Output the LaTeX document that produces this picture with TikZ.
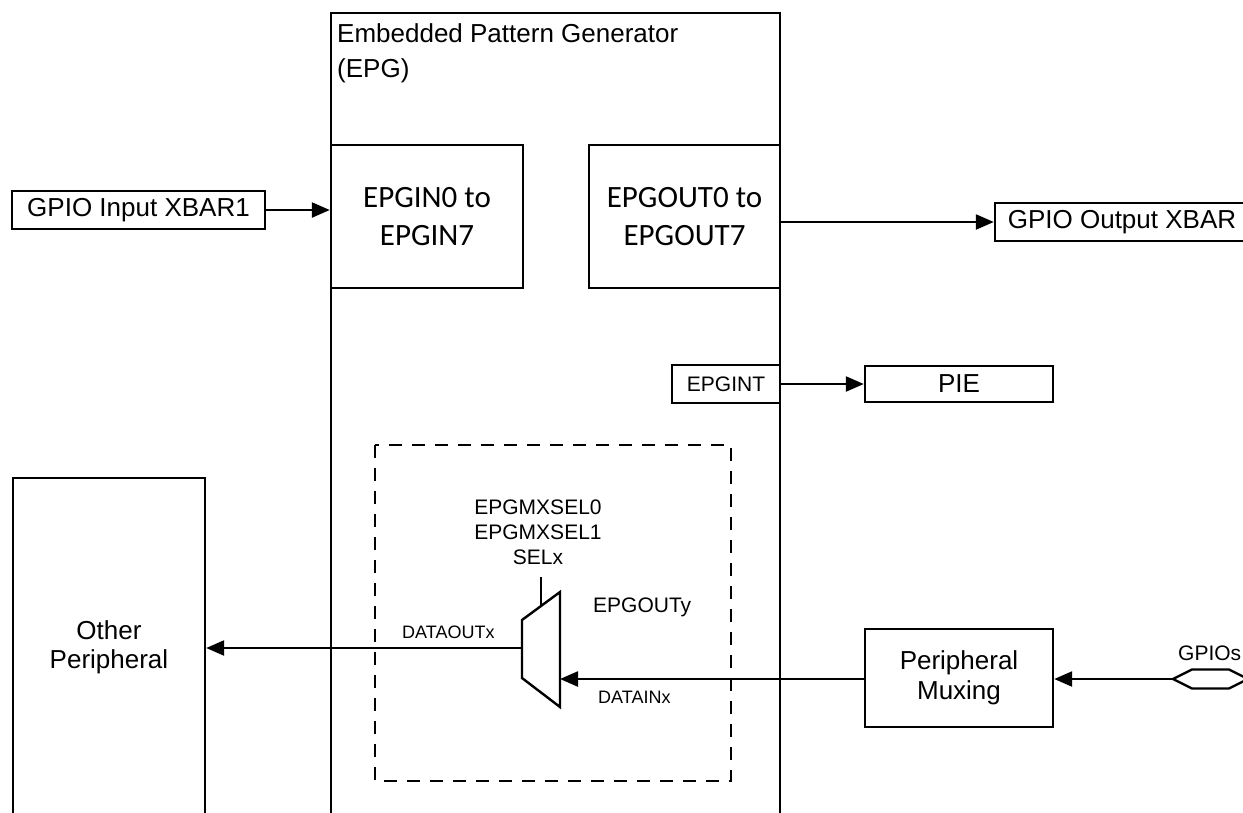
\documentclass[tikz,border=0pt]{standalone}
\usepackage{fontspec}
\setmainfont{Liberation Sans}
\newfontfamily\carlito{Carlito}
\usetikzlibrary{arrows.meta}
\begin{document}
\begin{tikzpicture}[x=1pt,y=-1pt,
  box/.style={draw,line width=2.4pt,rectangle,inner sep=0pt,align=center},
  conn/.style={line width=2.4pt,-{Triangle[length=18pt,width=15pt]}},
  plain/.style={line width=2.4pt},
  bigtxt/.style={font=\fontsize{26}{29}\selectfont},
  smalltxt/.style={font=\fontsize{18}{22}\selectfont},
  midtxt/.style={font=\fontsize{21}{25}\selectfont},
  caltxt/.style={font=\carlito\fontsize{31}{38}\selectfont}]
\useasboundingbox (0,0) rectangle (1243,812);
\clip (0,0) rectangle (1243,812);
\fill[white] (0,0) rectangle (1243,812);

% EPG main block
\node[box,minimum width=449pt,minimum height=837pt] (epg) at (555.5,431.5) {};
\node[anchor=north west,inner sep=0pt,align=left,font=\fontsize{26}{35}\selectfont] (title) at (337,23) {Embedded Pattern Generator\\(EPG)};

% inner boxes
\node[box,caltxt,minimum width=192pt,minimum height=143pt] (epgin) at (427,216.5) {EPGIN0 to\\EPGIN7};
\node[box,caltxt,minimum width=191pt,minimum height=143pt] (epgout) at (684.5,216.5) {EPGOUT0 to\\EPGOUT7};
\node[box,midtxt,minimum width=108pt,minimum height=38pt] (epgint) at (726,384) {EPGINT};

% outside boxes
\node[box,bigtxt,minimum width=253pt,minimum height=38pt] (gin) at (138.5,210) {GPIO Input XBAR1};
\node[box,bigtxt,minimum width=254pt,minimum height=38pt] (gout) at (1122,222) {GPIO Output XBAR};
\node[box,bigtxt,minimum width=188pt,minimum height=36pt] (pie) at (959,384) {PIE};
\node[box,bigtxt,minimum width=192pt,minimum height=338pt] (oth) at (109,647) {Other\\Peripheral};
\node[box,font=\fontsize{26}{30}\selectfont,minimum width=188pt,minimum height=98pt] (pmux) at (959,678) {Peripheral\\Muxing};

% dashed region
\draw[line width=2pt,dash pattern=on 13pt off 10pt] (375,445) rectangle (731,781);

% mux
\coordinate (mtl) at (522,620);
\coordinate (mtr) at (560,592);
\coordinate (mbr) at (560,707);
\coordinate (mbl) at (522,678);
\draw[plain,line join=miter] (mtl) -- (mtr) -- (mbr) -- (mbl) -- cycle;
\coordinate (muxin) at (560,679);
\coordinate (muxout) at (522,648);
\coordinate (selbot) at (541,606);
\coordinate (seltop) at (541,577);
\draw[plain] (selbot) -- (seltop);

% GPIOs port
\coordinate (gp) at (1173,679);
\draw[plain] (gp) -- (1192,669.5) -- (1229,669.5) -- (1248,679) -- (1229,688.5) -- (1192,688.5) -- cycle;

% connectors
\draw[conn] (gin.east) -- (gin.east -| epgin.west);
\draw[conn] (gout.west -| epgout.east) -- (gout.west);
\draw[conn] (epgint.east) -- (pie.west);
\draw[conn] (gp) -- (gp -| pmux.east);
\draw[conn] (pmux.west |- muxin) -- (muxin);
\draw[conn] (muxout) -- (muxout -| oth.east);

% labels
\node[anchor=center,inner sep=0pt,midtxt,align=center] (sel) at (538,532.5) {EPGMXSEL0\\EPGMXSEL1\\SELx};
\node[anchor=base west,inner sep=0pt,midtxt] (ey) at (593,612) {EPGOUTy};
\node[anchor=base west,inner sep=0pt,smalltxt] (dout) at (402,638) {DATAOUTx};
\node[anchor=base west,inner sep=0pt,smalltxt] (din) at (598,703) {DATAINx};
\node[anchor=base west,inner sep=0pt,midtxt] (gpl) at (1178,660) {GPIOs};
\end{tikzpicture}
\end{document}
